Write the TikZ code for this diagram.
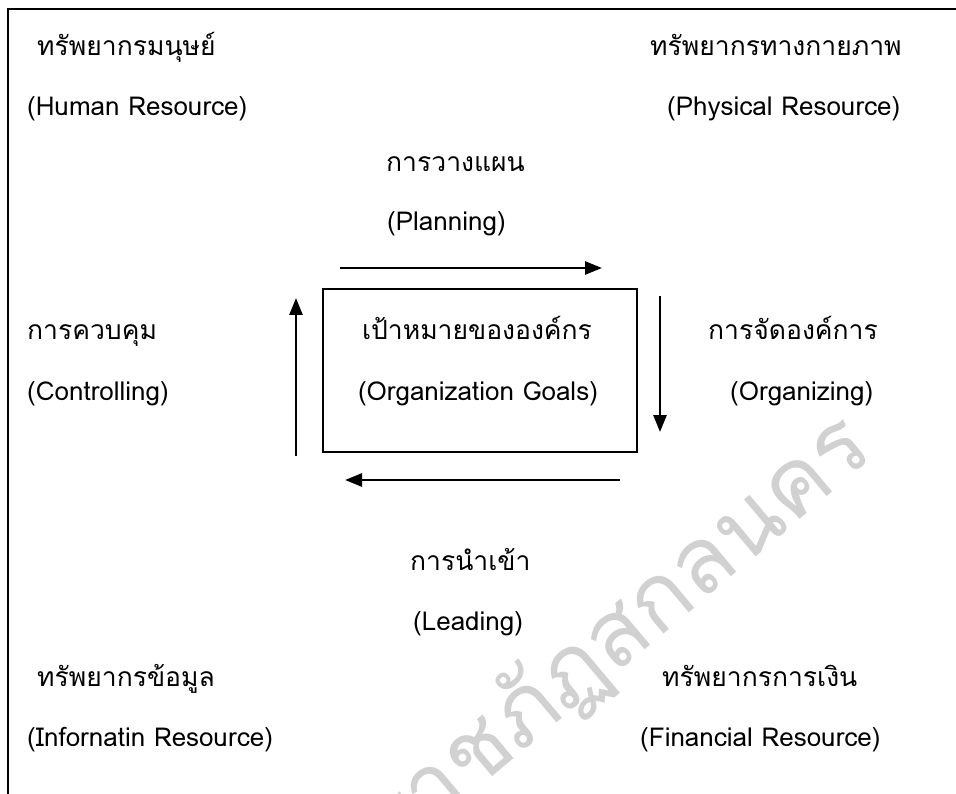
\documentclass[tikz,border=0pt]{standalone}
\usepackage{fontspec}
\setmainfont[Script=Thai]{Loma}
\usetikzlibrary{arrows.meta}
\tikzstyle{thai} = [anchor=base west, inner sep=0pt, font=\fontsize{26.5}{30}\selectfont]
\tikzstyle{eng} = [anchor=base west, inner sep=0pt, font=\fontsize{26}{30}\selectfont]
\tikzstyle{goalbox} = [rectangle, draw=black, line width=1.8pt, minimum width=314pt, minimum height=163pt]
\tikzstyle{arrow} = [line width=2.6pt, -{Triangle[length=17pt,width=13pt]}]
\tikzstyle{frame} = [line width=2pt]
\tikzstyle{watermark} = [text=black!18, font=\fontsize{92}{100}\selectfont]

\begin{document}
\begin{tikzpicture}[x=1pt, y=-1pt]
\useasboundingbox (0,0) rectangle (956,794);

\node (mark) [watermark, rotate=40] at (618,636) {ราชภัฏสกลนคร};

\draw [frame] (8,794) -- (8,9) -- (956,9);

% resources in the corners
\node (human) [thai] at (37,56) {ทรัพยากรมนุษย์};
\node (humanen) [eng] at (27,116) {(Human Resource)};
\node (phys) [thai] at (650,56) {ทรัพยากรทางกายภาพ};
\node (physen) [eng] at (667,116) {(Physical Resource)};
\node (info) [thai] at (37,686) {ทรัพยากรข้อมูล};
\node (infoen) [eng] at (27,746) {(Infornatin Resource)};
\node (fin) [thai] at (662,686) {ทรัพยากรการเงิน};
\node (finen) [eng] at (640,746) {(Financial Resource)};

% management functions
\node (plan) [thai] at (386,172) {การวางแผน};
\node (planen) [eng] at (387,231) {(Planning)};
\node (ctrl) [thai] at (27,340) {การควบคุม};
\node (ctrlen) [eng] at (27,400) {(Controlling)};
\node (org) [thai] at (708,340) {การจัดองค์การ};
\node (orgen) [eng] at (730,400) {(Organizing)};
\node (lead) [thai] at (410,570) {การนำเข้า};
\node (leaden) [eng] at (413,630) {(Leading)};

% goals in the middle
\node (goal) [goalbox] at (480,370.5) {};
\node (goalth) [thai, anchor=base] at (477,340) {เป้าหมายขององค์กร};
\node (goalen) [eng, anchor=base] at (478,400) {(Organization Goals)};

\coordinate (a1) at (340,268);
\coordinate (a2) at (602,268);
\coordinate (b1) at (660,296);
\coordinate (b2) at (660,432);
\coordinate (c1) at (620,480);
\coordinate (c2) at (345,480);
\coordinate (d1) at (296,456);
\coordinate (d2) at (296,298);

\draw [arrow] (a1) -- (a2);
\draw [arrow] (b1) -- (b2);
\draw [arrow] (c1) -- (c2);
\draw [arrow] (d1) -- (d2);

\end{tikzpicture}
\end{document}
